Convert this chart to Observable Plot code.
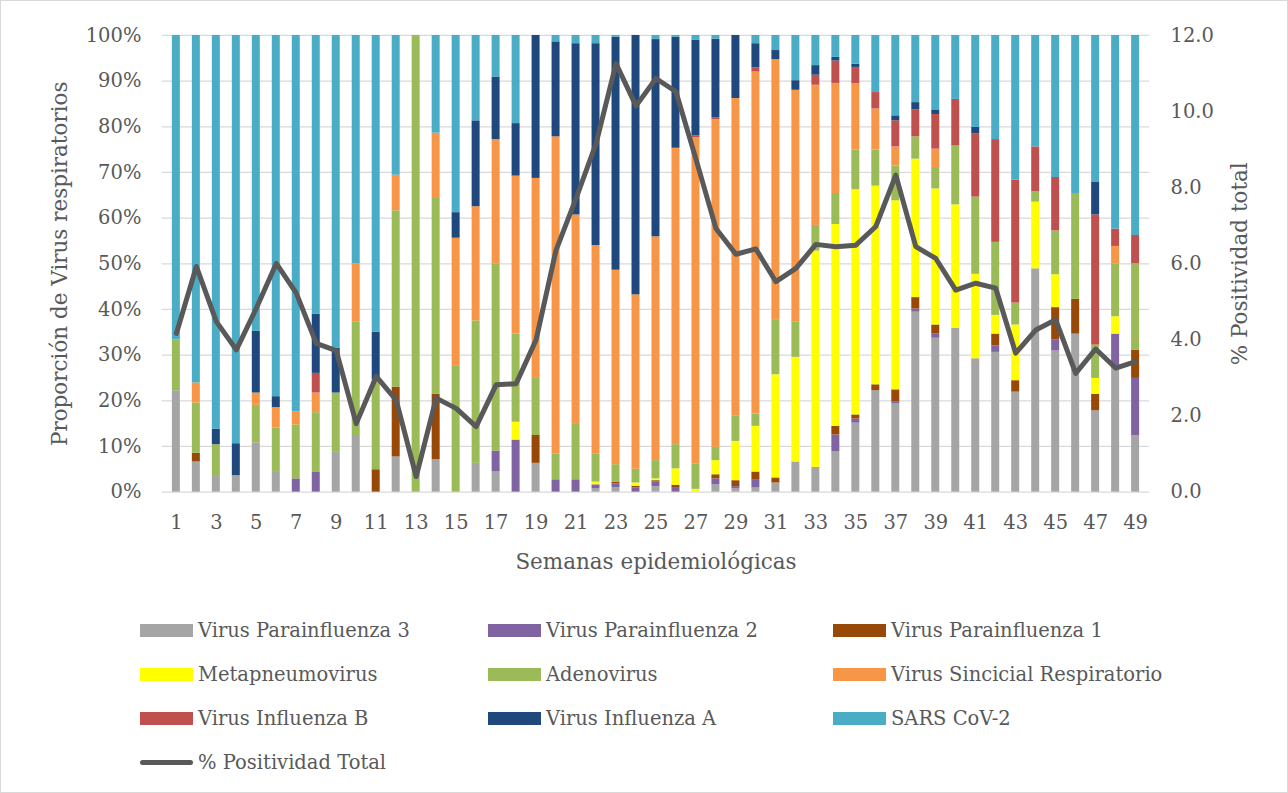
<!DOCTYPE html>
<html>
<head>
<meta charset="utf-8">
<script src="https://cdn.jsdelivr.net/npm/d3@7"></script>
<script src="https://cdn.jsdelivr.net/npm/@observablehq/plot@0.6"></script>
<style>
  html, body { margin: 0; padding: 0; background: #fff; }
  #wrap { position: relative; width: 1286px; height: 791px; border: 1px solid #D9D9D9; overflow: hidden; font-family: "DejaVu Serif", serif; color: #595959; }
  #chart { position: absolute; left: -1px; top: -1px; }
  #legend { position: absolute; left: 139px; top: 607px; display: grid; grid-template-columns: 348px 345px 320px; grid-auto-rows: 44px; }
  .item { display: flex; align-items: center; font-family: "DejaVu Serif", serif; font-size: 19.5px; white-space: nowrap; color: #595959; }
  .sw { width: 53px; height: 13px; margin-right: 5px; flex: none; }
  .ln { width: 53px; height: 5px; border-radius: 3px; margin-right: 5px; flex: none; background: #595959; }
</style>
</head>
<body>
<div id="wrap">
  <div id="chart"></div>
  <div id="legend"></div>
</div>
<script>
// Epidemiological weeks
const weeks = d3.range(1, 50);
const tickWeeks = [1,3,5,7,9,11,13,15,17,19,21,23,25,27,29,31,33,35,37,39,41,43,45,47,49];

// Series names (bottom to top of the stack) and colours
const virusNames = ["Virus Parainfluenza 3","Virus Parainfluenza 2","Virus Parainfluenza 1","Metapneumovirus","Adenovirus","Virus Sincicial Respiratorio","Virus Influenza B","Virus Influenza A","SARS CoV-2"];
const virusColors = ["#A5A5A5","#8064A2","#984807","#FFFF00","#9BBB59","#F79646","#C0504D","#1F497D","#4BACC6"];

// Proportion (%) per week, one array per virus
const parainfluenza3 = [22.2,6.6,3.4,3.6,10.8,4.5,0,0,8.7,12.4,0,7.7,0,7.1,0,6.3,4.5,0,6.3,0,0,0.7,1.0,0,1.2,0,0,1.6,0.7,0.9,2.0,6.6,5.4,8.8,15.1,22.2,19.3,39.4,33.7,35.9,29.2,30.6,21.9,48.9,30.9,34.6,17.8,27.1,12.4];
const parainfluenza2 = [0,0,0,0,0,0,2.9,4.3,0,0,0,0,0,0,0,0,4.5,11.4,0,2.7,2.7,0.9,0.8,0.9,1.0,1.0,0,1.3,0.5,1.7,0,0,0,3.7,0.9,0,0.5,0.7,0.9,0,0,1.4,0,0,2.4,0,0,7.5,12.5];
const parainfluenza1 = [0,1.9,0,0,0,0,0,0,0,0,4.9,15.3,0,14.3,0,0,0,0,6.1,0,0,0,0.4,0.4,0.3,0.5,0,0.9,1.3,1.8,1.1,0,0,1.9,0.9,1.3,2.6,2.5,2.0,0,0,2.6,2.5,0,7.1,7.6,3.6,0,6.2];
const metapneumovirus = [0,0,0,0,0,0,0,0,0,0,0,0,0,0,0,0,0,3.9,0,0,0,0.6,0,0.7,0.4,3.6,0.6,3.1,8.6,10.0,22.6,22.9,47.4,44.2,49.3,43.5,41.4,30.3,29.8,27.0,18.5,4.1,12.2,14.6,7.2,0,3.5,3.8,0];
const adenovirus = [11.1,11.0,7.0,0,8.2,9.5,11.8,13.1,13.0,24.9,19.7,38.6,100,42.9,27.7,31.2,41.0,19.3,12.5,5.6,12.3,6.2,3.8,3.0,4.0,5.3,5.6,2.9,5.5,2.7,11.9,7.8,5.6,6.8,8.7,7.9,7.6,4.9,4.7,12.9,16.9,16.0,4.8,2.3,9.6,23.2,7.3,11.6,18.9];
const vsr = [0,4.4,0,0,2.7,4.5,2.9,4.3,0,12.7,0,7.8,0,14.3,27.9,25.0,27.2,34.6,43.8,69.5,45.7,45.6,42.6,38.2,49.0,64.9,71.4,71.8,69.6,74.9,57.1,50.7,30.7,24.1,14.5,9.0,4.2,0,4.0,0,0,0,0,0,0,0,0,3.8,0];
const influenzaB = [0,0,0,0,0,0,0,4.3,0,0,0,0,0,0,0,0,0,0,0,0,0,0,0,0,0,0,0.4,0.4,0,0.9,0,0,2.2,4.9,3.6,3.6,5.7,5.9,7.6,10.2,13.9,22.5,26.9,9.8,11.7,0,28.5,3.8,6.2];
const influenzaA = [0,0,3.4,7.0,13.5,2.4,0,13.0,9.8,0,10.4,0,0,0,5.6,18.8,13.7,11.5,31.3,20.8,37.5,44.2,51.0,56.8,43.2,24.3,21.0,17.2,13.8,5.3,2.0,2.1,2.1,0.8,0.7,0,1.1,1.6,1.0,0,1.4,0,0,0,0,0,7.1,0,0];
const sarsCov2 = [66.7,76.1,86.2,89.4,64.8,79.1,82.4,61.0,68.5,50.0,65.0,30.6,0,21.4,38.8,18.7,9.1,19.3,0,1.4,1.8,1.8,0.4,0,0.9,0.4,1.0,0.8,0,1.8,3.3,9.9,6.6,4.8,6.3,12.5,17.6,14.7,16.3,14.0,20.1,22.8,31.7,24.4,31.1,34.6,32.2,42.4,43.8];

// % Positividad total (right axis, 0–12)
const positividad = [4.17,5.93,4.48,3.74,4.83,6.01,5.23,3.91,3.72,1.8,3.04,2.42,0.41,2.47,2.2,1.72,2.82,2.85,4.0,6.36,7.72,9.16,11.26,10.15,10.87,10.52,8.75,6.93,6.25,6.39,5.53,5.88,6.51,6.45,6.49,6.98,8.33,6.45,6.14,5.31,5.49,5.36,3.65,4.26,4.53,3.12,3.76,3.26,3.43];
const rightMax = 12;

const seriesValues = [parainfluenza3, parainfluenza2, parainfluenza1, metapneumovirus, adenovirus, vsr, influenzaB, influenzaA, sarsCov2];

const stacked = [];
weeks.forEach((w, i) => {
  virusNames.forEach((name, k) => {
    stacked.push({week: w, virus: name, value: seriesValues[k][i]});
  });
});
const lineData = weeks.map((w, i) => ({week: w, pos: positividad[i]}));

const leftTicks = d3.range(0, 101, 10);
const rightTickValues = [0, 2, 4, 6, 8, 10, 12];

const chart = Plot.plot({
  width: 1288,
  height: 600,
  marginTop: 35,
  marginBottom: 108,
  marginLeft: 162,
  marginRight: 138,
  style: {fontFamily: "DejaVu Serif", fontSize: "19.5px", color: "#595959", background: "transparent"},
  x: {type: "band", domain: weeks, paddingInner: 0.6, paddingOuter: 0.3, axis: null},
  y: {domain: [0, 100], axis: null},
  color: {domain: virusNames, range: virusColors},
  marks: [
    Plot.gridY(leftTicks, {stroke: "#D9D9D9", strokeOpacity: 1, strokeWidth: 1.3}),
    Plot.barY(stacked, {x: "week", y: "value", fill: "virus", order: virusNames}),
    Plot.line(lineData, {x: "week", y: d => d.pos / rightMax * 100, stroke: "#595959", strokeWidth: 5, strokeLinejoin: "round", strokeLinecap: "round"}),
    Plot.axisY(leftTicks, {anchor: "left", tickSize: 0, tickPadding: 21, tickFormat: d => d + "%", label: null, fill: "#595959"}),
    Plot.axisY(rightTickValues.map(v => v / rightMax * 100), {anchor: "right", tickSize: 0, tickPadding: 21, tickFormat: d => (d / 100 * rightMax).toFixed(1), label: null, fill: "#595959"}),
    Plot.axisX(tickWeeks, {anchor: "bottom", tickSize: 0, tickPadding: 23, label: null, fill: "#595959"}),
    Plot.text(["Proporción de Virus respiratorios"], {frameAnchor: "left", textAnchor: "middle", dx: -102, rotate: -90, fontSize: 21.5, fill: "#595959"}),
    Plot.text(["% Positividad total"], {frameAnchor: "right", textAnchor: "middle", dx: 91, rotate: -90, fontSize: 21.5, fill: "#595959"}),
    Plot.text(["Semanas epidemiológicas"], {frameAnchor: "bottom", dy: 77, fontSize: 21.5, fill: "#595959"})
  ]
});
document.getElementById("chart").appendChild(chart);

// Legend
const legend = document.getElementById("legend");
virusNames.forEach((name, k) => {
  const it = document.createElement("div");
  it.className = "item";
  const sw = document.createElement("span");
  sw.className = "sw";
  sw.style.background = virusColors[k];
  it.appendChild(sw);
  const tx = document.createElement("span");
  tx.textContent = name;
  it.appendChild(tx);
  legend.appendChild(it);
});
const li = document.createElement("div");
li.className = "item";
const ln = document.createElement("span");
ln.className = "ln";
li.appendChild(ln);
const lt = document.createElement("span");
lt.textContent = "% Positividad Total";
li.appendChild(lt);
legend.appendChild(li);
</script>
</body>
</html>
